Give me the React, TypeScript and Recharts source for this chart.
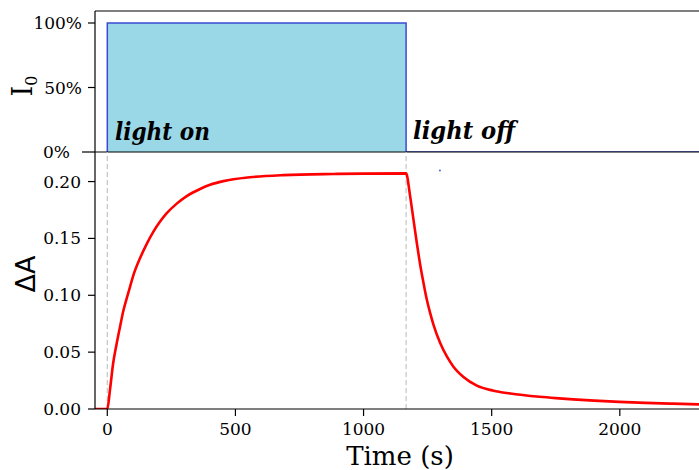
import React from "react";
import {
  ComposedChart,
  Area,
  Line,
  XAxis,
  YAxis,
  ReferenceLine,
  ReferenceDot,
} from "recharts";

// ---- data ----
const TIME_S = [
  -48, 0, 10.5, 23, 37, 50, 62, 76, 89, 101, 128, 154, 180, 206, 232, 271,
  310, 362, 401, 453, 557, 687, 882, 1000, 1166, 1181, 1194, 1208, 1221, 1234,
  1247, 1260, 1273, 1299, 1325, 1350, 1390, 1442, 1507, 1572, 1687, 1750,
  1817, 1900, 1998, 2100, 2206, 2309,
];
const DELTA_A = [
  0, 0, 0.017, 0.0404, 0.058, 0.0726, 0.0857, 0.0975, 0.1077, 0.1171, 0.1327,
  0.1452, 0.156, 0.1648, 0.1722, 0.1806, 0.1872, 0.1935, 0.1972, 0.2004,
  0.2038, 0.2057, 0.2067, 0.207, 0.2072, 0.1883, 0.1678, 0.1458, 0.1268,
  0.1107, 0.096, 0.0843, 0.074, 0.058, 0.0462, 0.0374, 0.0281, 0.0205, 0.0161,
  0.0137, 0.0108, 0.0096, 0.0085, 0.0074, 0.0063, 0.0054, 0.0047, 0.0041,
];
const I0_TIME = [0, 0, 1166, 1166, 2309];
const I0_PCT = [0, 100, 100, 0, 0];
const LIGHT_ON_S = 0;
const LIGHT_OFF_S = 1166;
const X_DOMAIN = [-48, 2309];
const X_TICKS = [0, 500, 1000, 1500, 2000];
const DA_TICKS = [0, 0.05, 0.1, 0.15, 0.2];
const DA_DOMAIN = [0, 0.226];
const I0_TICKS = [0, 50, 100];
const I0_DOMAIN = [0, 109.3];
const STRAY_POINT = { t: 1298, a: 0.2097 };

const absData = TIME_S.map((t, i) => ({ t, a: DELTA_A[i] }));
const i0Data = I0_TIME.map((t, i) => ({ t, p: I0_PCT[i] }));

const TICK_FONT = { fontFamily: "DejaVu Serif", fontSize: 17, fill: "#000" };

const I0Tick = (props: any) => {
  const { x, y, payload } = props;
  const zero = payload.value === 0;
  return (
    <g>
      <text
        x={zero ? x - 12 : x}
        y={y}
        dy="0.36em"
        textAnchor="end"
        fontFamily="DejaVu Serif"
        fontSize={17}
        fill="#000"
      >
        {payload.value}%
      </text>
      {zero && <line x1={x} x2={x + 6} y1={y} y2={y} stroke="#000" strokeWidth={1.2} />}
    </g>
  );
};

export default function App() {
  return (
    <div style={{ position: "absolute", left: 0, top: 0, width: 699, height: 470, background: "#fff", overflow: "hidden" }}>
      <div style={{ position: "absolute", left: 0, top: 0 }}>
        <ComposedChart width={699} height={172} data={i0Data} margin={{ top: 11, right: 0, bottom: 20, left: 0 }}>
          <XAxis dataKey="t" type="number" domain={X_DOMAIN} allowDataOverflow hide />
          <YAxis
            type="number"
            domain={I0_DOMAIN}
            allowDataOverflow
            ticks={I0_TICKS}
            width={95}
            tickSize={7}
            tickMargin={6}
            tick={I0Tick}
            axisLine={{ stroke: "#000", strokeWidth: 1.2 }}
            tickLine={{ stroke: "#000", strokeWidth: 1.2 }}
          />
          <ReferenceLine y={I0_DOMAIN[1]} stroke="#000" strokeWidth={1.2} />
          <ReferenceLine y={0} stroke="#000" strokeWidth={1.2} />
          <Area
            dataKey="p"
            type="linear"
            stroke="#3a4bd2"
            strokeWidth={1.5}
            fill="#9ad8e8"
            fillOpacity={1}
            isAnimationActive={false}
          />
        </ComposedChart>
      </div>
      <div style={{ position: "absolute", left: 0, top: 140 }}>
        <ComposedChart width={699} height={330} data={absData} margin={{ top: 12, right: 0, bottom: 0, left: 0 }}>
          <XAxis
            dataKey="t"
            type="number"
            domain={X_DOMAIN}
            allowDataOverflow
            ticks={X_TICKS}
            height={61}
            tickSize={7}
            tickMargin={7}
            tick={TICK_FONT}
            axisLine={{ stroke: "#000", strokeWidth: 1.2 }}
            tickLine={{ stroke: "#000", strokeWidth: 1.2 }}
          />
          <YAxis
            type="number"
            domain={DA_DOMAIN}
            allowDataOverflow
            ticks={DA_TICKS}
            width={95}
            tickSize={7}
            tickMargin={7}
            tick={TICK_FONT}
            tickFormatter={(v: number) => v.toFixed(2)}
            axisLine={{ stroke: "#000", strokeWidth: 1.2 }}
            tickLine={{ stroke: "#000", strokeWidth: 1.2 }}
          />
          <ReferenceLine x={LIGHT_ON_S} stroke="#c4c4c4" strokeWidth={1.2} strokeDasharray="5 3" />
          <ReferenceLine x={LIGHT_OFF_S} stroke="#c4c4c4" strokeWidth={1.2} strokeDasharray="5 3" />
          <Line
            dataKey="a"
            type="monotone"
            stroke="#ff0000"
            strokeWidth={2.6}
            dot={false}
            isAnimationActive={false}
          />
          <ReferenceDot x={STRAY_POINT.t} y={STRAY_POINT.a} r={1} fill="#5563e0" stroke="none" />
        </ComposedChart>
      </div>
      <svg width={699} height={470} style={{ position: "absolute", left: 0, top: 0, pointerEvents: "none" }}>
        <text x={115} y={140} fontFamily="DejaVu Serif" fontStyle="italic" fontWeight="bold" fontSize={24} textLength={95} lengthAdjust="spacingAndGlyphs" fill="#000">
          light on
        </text>
        <text x={413} y={139} fontFamily="DejaVu Serif" fontStyle="italic" fontWeight="bold" fontSize={24} textLength={102} lengthAdjust="spacingAndGlyphs" fill="#000">
          light off
        </text>
        <text transform="translate(32,86) rotate(-90)" textAnchor="middle" fontFamily="DejaVu Serif" fontSize={27} fill="#000">
          I<tspan fontSize={16} dy={5}>0</tspan>
        </text>
        <text transform="translate(34.5,274) rotate(-90)" textAnchor="middle" fontFamily="DejaVu Sans" fontSize={27} fill="#000">
          ΔA
        </text>
        <text x={400} y={465} textAnchor="middle" fontFamily="DejaVu Serif" fontSize={26} fill="#000">
          Time (s)
        </text>
      </svg>
    </div>
  );
}
